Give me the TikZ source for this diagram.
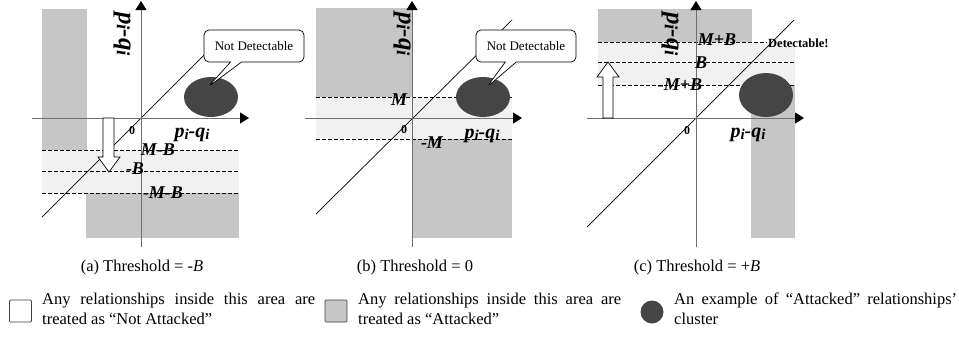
\documentclass[tikz,border=0pt]{standalone}
\usepackage{fontspec}
\setmainfont{Liberation Serif}
\usetikzlibrary{arrows.meta,shapes.callouts,shapes.geometric,positioning}
\definecolor{attgrey}{HTML}{C6C6C6}
\definecolor{bandgrey}{HTML}{F1F1F1}
\definecolor{axisgrey}{HTML}{6E6E6E}
\definecolor{clustergrey}{HTML}{454545}
\tikzset{
  attacked/.style={fill=attgrey},
  band/.style={fill=bandgrey},
  thr/.style={draw=black,dash pattern=on 3.5pt off 2.5pt,line width=0.6pt},
  axis/.style={draw=axisgrey,line width=1pt,-{Triangle[length=9pt,width=11pt,color=black]}},
  diag/.style={draw=black,line width=0.7pt},
  cluster/.style={fill=clustergrey},
  hollow/.style={draw=black,fill=white,line width=0.7pt},
  val/.style={font=\fontsize{18}{18}\selectfont\bfseries\itshape,inner sep=0pt},
  zero/.style={font=\fontsize{12}{12}\selectfont\bfseries,inner sep=0pt},
  axlbl/.style={font=\fontsize{20}{20}\selectfont\bfseries\itshape,inner sep=0pt},
  vlbl/.style={font=\fontsize{25}{25}\selectfont\bfseries\itshape,inner sep=0pt,rotate=-90},
  callbox/.style={rectangle callout,draw=black,fill=white,rounded corners=5pt,minimum width=100pt,
                  minimum height=32pt,font=\fontsize{13}{13}\selectfont,callout pointer width=11pt,line width=0.7pt},
  caption/.style={font=\fontsize{16.5}{20}\selectfont,inner sep=0pt},
  legend/.style={font=\fontsize{16.5}{20}\selectfont,align=left,anchor=north west,inner sep=0pt},
  keysq/.style={draw=black!75,rounded corners=1pt,minimum size=22pt,inner sep=0pt,line width=0.7pt},
}
\newcommand{\pq}{p\raisebox{-2pt}{\scalebox{0.75}{i}}-q\raisebox{-2pt}{\scalebox{0.75}{i}}}

\begin{document}
\begin{tikzpicture}[x=1pt,y=-1pt]
  \useasboundingbox (0,0) rectangle (959,341);
  % (a) threshold -B
  \begin{scope}[shift={(141,118)}]
    \coordinate (oA) at (0,0);
    \fill[attacked] (-99,-109) rectangle (-54,32);
    \fill[band] (-99,32) rectangle (98,75);
    \fill[attacked] (-55,75) rectangle (98,120);
    \foreach \ty in {32,53,75}
      \draw[thr] (-99,\ty) -- (98,\ty);
    \draw[diag] (-99,99) -- (63,-63);
    \draw[axis] (0,129) -- (0,-117);
    \draw[axis] (-109,0) -- (108,0);
    \node[cluster,ellipse,minimum width=54pt,minimum height=40pt,inner sep=0pt] (clA) at (70,-21) {};
    \coordinate (tipA) at (67,-31);
    \node[callbox,callout absolute pointer=(tipA)] (callA) at (113,-72) {Not Detectable};
    \draw[hollow] (-38,0) -- (-27,0) -- (-27,39) -- (-21,39) -- (-32,54) -- (-43,39) -- (-38,39) -- cycle;
    \node[zero] (zA) at (-9,13) {0};
    \node[axlbl] (hA) at (51,17) {\pq};
    \node[vlbl] (vA) at (-19,-84) {\pq};
    \node[val] (mbA) at (17,32) {M-B};
    \node[val] (bA) at (-6,51) {-B};
    \node[val] (nmbA) at (22,75) {-M-B};
  \end{scope}
  % (b) threshold 0
  \begin{scope}[shift={(412,118)}]
    \fill[attacked] (-96,-110) rectangle (0,-21);
    \fill[band] (-96,-21) rectangle (100,21);
    \fill[attacked] (0,21) rectangle (100,120);
    \foreach \ty in {-21,21}
      \draw[thr] (-96,\ty) -- (100,\ty);
    \draw[diag] (-96,96) -- (100,-98);
    \draw[axis] (0,129) -- (0,-117);
    \draw[axis] (-107,0) -- (110,0);
    \node[cluster,ellipse,minimum width=54pt,minimum height=40pt,inner sep=0pt] (clB) at (71,-21) {};
    \coordinate (tipB) at (75,-31);
    \node[callbox,callout absolute pointer=(tipB)] (callB) at (114,-72) {Not Detectable};
    \node[zero] (zB) at (-8,12) {0};
    \node[axlbl] (hB) at (70,18) {\pq};
    \node[vlbl] (vB) at (-10,-84) {\pq};
    \node[val] (mB) at (-13,-18) {M};
    \node[val] (nmB) at (20,25) {-M};
  \end{scope}
  % (c) threshold +B
  \begin{scope}[shift={(696,118)}]
    \fill[attacked] (-98,-109) rectangle (56,-76);
    \fill[band] (-98,-76) rectangle (99,-33);
    \fill[attacked] (55,-33) rectangle (99,120);
    \draw[thr] (-98,-76) -- (71,-76);
    \foreach \ty in {-56,-33}
      \draw[thr] (-98,\ty) -- (99,\ty);
    \draw[diag] (-109,109) -- (98,-98);
    \draw[axis] (0,129) -- (0,-117);
    \draw[axis] (-109,0) -- (108,0);
    \node[cluster,ellipse,minimum width=54pt,minimum height=44pt,inner sep=0pt] (clC) at (70,-23) {};
    \draw[hollow] (-93,0) -- (-83,0) -- (-83,-41) -- (-77,-41) -- (-88,-56) -- (-99,-41) -- (-93,-41) -- cycle;
    \node[zero] (zC) at (-9,13) {0};
    \node[axlbl] (hC) at (52,17) {\pq};
    \node[vlbl] (vC) at (-26,-84) {\pq};
    \node[val] (mpbC) at (21,-78) {M+B};
    \node[val] (bC) at (5,-55) {B};
    \node[val] (nmpbC) at (-16,-33) {-M+B};
    \node[font=\fontsize{12.5}{12.5}\selectfont\bfseries,inner sep=0pt,anchor=west] (detC) at (72,-75) {Detectable!};
  \end{scope}
  % captions
  \node[caption] (capA) at (142,268) {(a) Threshold = -\textit{B}};
  \node[caption] (capB) at (415,268) {(b) Threshold = 0};
  \node[caption] (capC) at (697,268) {(c) Threshold = +\textit{B}};
  % legend
  \node[keysq,fill=white] (kfree) at (20.5,311) {};
  \node[legend] (tfree) at (42,293) {\makebox[273pt][s]{Any relationships inside this area are}\\treated as “Not Attacked”};
  \node[keysq,fill=attgrey] (katt) at (336,311) {};
  \node[legend] (tatt) at (358,293) {\makebox[263pt][s]{Any relationships inside this area are}\\treated as “Attacked”};
  \node[cluster,circle,minimum size=23pt,inner sep=0pt] (kcl) at (652,312) {};
  \node[legend] (tcl) at (674,293) {\makebox[283pt][s]{An example of “Attacked” relationships’}\\cluster};
\end{tikzpicture}
\end{document}
